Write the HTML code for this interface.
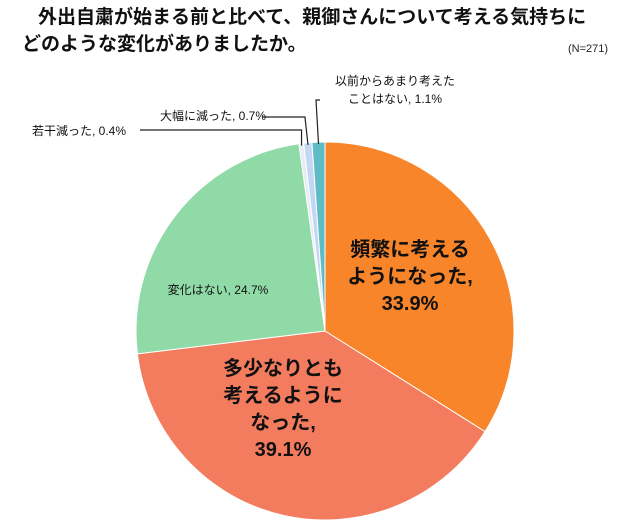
<!DOCTYPE html>
<html><head><meta charset="utf-8"><style>
body{margin:0;background:#fff;width:640px;height:532px;overflow:hidden;font-family:"Liberation Sans","Noto Sans CJK JP",sans-serif}
</style></head><body>
<svg width="640" height="532" style="position:absolute;left:0;top:0">
<text x="38" y="23" font-size="19" font-weight="bold" fill="#111">外出自粛が始まる前と比べて、親御さんについて考える気持ちに</text>
<text x="22" y="50" font-size="19" font-weight="bold" fill="#111">どのような変化がありましたか。</text>
<text x="588" y="52" font-size="11" text-anchor="middle" fill="#222">(N=271)</text>
<g id="slices"></g>
<g id="labels" font-family="Liberation Sans, Noto Sans CJK JP, sans-serif"></g>
</svg>
<script>
const categories=["頻繁に考えるようになった","多少なりとも考えるようになった","変化はない","若干減った","大幅に減った","以前からあまり考えたことはない"];
const values=[33.9,39.1,24.7,0.4,0.7,1.1];
const colors=["#F8852A","#F47C5E","#8FDAA6","#E4ECF6","#C3D7F3","#5FBBC5"];
const cx=325,cy=331,r=189;
const NS="http://www.w3.org/2000/svg";
const total=values.reduce((a,b)=>a+b,0);
const g=document.getElementById('slices');
function pt(a,rr){return [cx+rr*Math.sin(a),cy-rr*Math.cos(a)];}
let acc=0;const mids=[];
values.forEach((v,i)=>{
 const a0=acc/total*2*Math.PI;acc+=v;const a1=acc/total*2*Math.PI;
 mids.push((a0+a1)/2);
 const p0=pt(a0,r),p1=pt(a1,r);
 const p=document.createElementNS(NS,'path');
 p.setAttribute('d',`M${cx},${cy}L${p0[0]},${p0[1]}A${r},${r} 0 ${a1-a0>Math.PI?1:0} 1 ${p1[0]},${p1[1]}Z`);
 p.setAttribute('fill',colors[i]);p.setAttribute('stroke','#fff');p.setAttribute('stroke-width','1');
 
 
 g.appendChild(p);
});
const L=document.getElementById('labels');
function txt(lines,x,y,size,bold,lh,anchor,name){
 const t=document.createElementNS(NS,'text');
 t.setAttribute('font-size',size);if(bold)t.setAttribute('font-weight','bold');
 t.setAttribute('text-anchor',anchor);t.setAttribute('fill','#111');
 
 
 lines.forEach((s,k)=>{const ts=document.createElementNS(NS,'tspan');ts.setAttribute('x',x);ts.setAttribute('y',y+k*lh);ts.textContent=s;t.appendChild(ts);});
 L.appendChild(t);
}
function line(pts,name){const pl=document.createElementNS(NS,'polyline');pl.setAttribute('points',pts.map(p=>p.join(',')).join(' '));pl.setAttribute('fill','none');pl.setAttribute('stroke','#222');pl.setAttribute('stroke-width','1.2');
 
 
 L.appendChild(pl);}
txt(["頻繁に考える","ようになった,",values[0]+"%"],410,256,20,true,27,"middle","label-frequent");
txt(["多少なりとも","考えるように","なった,",values[1]+"%"],283,375,20,true,27,"middle","label-somewhat");
txt(["変化はない, "+values[2]+"%"],218,294,12,false,16,"middle","label-no-change");
const e3=pt(mids[3],r-2),e4=pt(mids[4],r-2),e5=pt(mids[5],r-2);
line([[140,130],[e3[0],130],[e3[0],e3[1]]],"leader-slight-decrease");
txt(["若干減った, "+values[3]+"%"],32,135,12,false,16,"start","label-slight-decrease");
line([[262,117],[e4[0]-3,117],[e4[0],e4[1]]],"leader-large-decrease");
txt(["大幅に減った, "+values[4]+"%"],160,120,12,false,16,"start","label-large-decrease");
line([[320,100],[316,100],[e5[0],e5[1]]],"leader-never");
txt(["以前からあまり考えた","ことはない, "+values[5]+"%"],395,85,12,false,18,"middle","label-never");
</script>
</body></html>
